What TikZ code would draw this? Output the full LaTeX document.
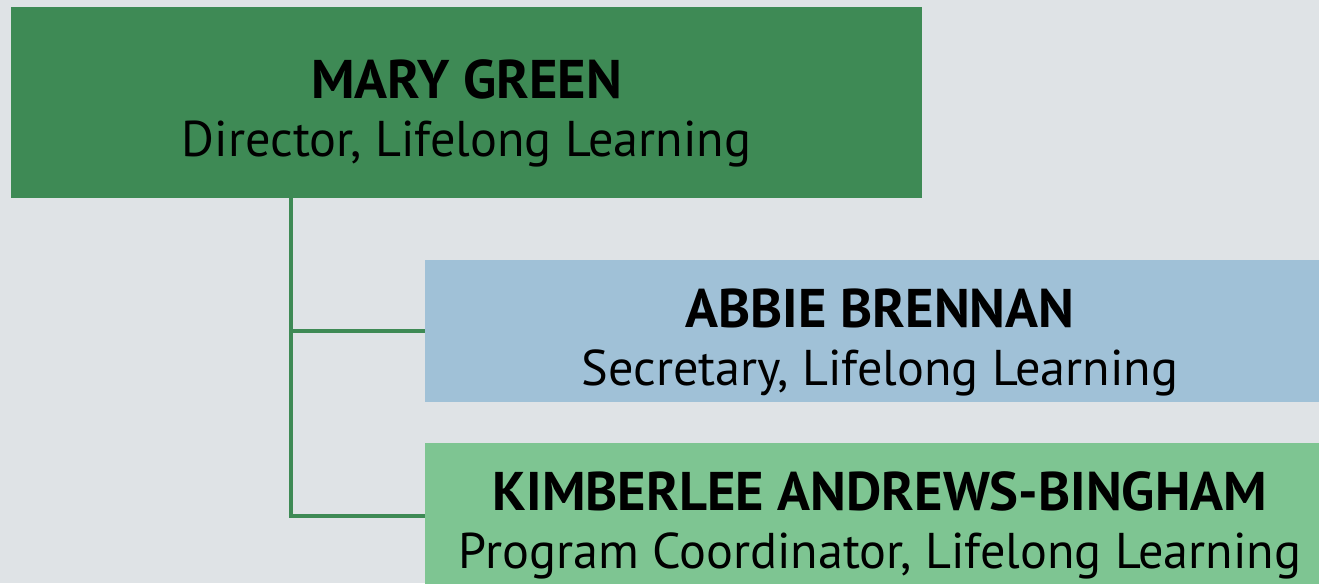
\documentclass[tikz,border=0pt]{standalone}
\usepackage{fontspec}
\setmainfont{PT Sans}
\usetikzlibrary{positioning}
\definecolor{fond}{RGB}{223, 227, 230}
\definecolor{vert}{RGB}{62, 138, 85}
\definecolor{bleu}{RGB}{160, 193, 215}
\definecolor{vertclair}{RGB}{126, 197, 146}
\newcommand{\fiche}[2]{\rule{0pt}{35pt}{\fontsize{31}{33}\selectfont\bfseries #1}\\{\fontsize{28.6}{33}\selectfont #2}}
\tikzset{poste/.style={rectangle, inner sep=0pt, align=center, text=black, font=\fontsize{28.6}{33}\selectfont}}

\begin{document}
\begin{tikzpicture}[x={0.02cm}, y={-0.02cm}]
				\fill[fond] (0,0) rectangle (1319,583); % le fond
				\useasboundingbox (0,0) rectangle (1319,583);
				\node[poste, fill=vert, minimum width=18.22cm, minimum height=3.82cm] (directrice) at (466.5,102.5) {\fiche{MARY GREEN}{Director, Lifelong Learning}};
				\node[poste, fill=bleu, minimum width=18.2cm, minimum height=2.84cm] (secretaire) at (880,331) {\fiche{ABBIE BRENNAN}{Secretary, Lifelong Learning}};
				\node[poste, fill=vertclair, minimum width=18.2cm, minimum height=2.84cm] (coordinatrice) at (880,514) {\fiche{KIMBERLEE ANDREWS-BINGHAM}{Program Coordinator, Lifelong Learning}};
				\coordinate (tronc) at (291,198);
				\draw[vert, line width=2pt] (tronc) |- (secretaire.west);
				\draw[vert, line width=2pt] (tronc) |- (coordinatrice.west|-0,516);
			\end{tikzpicture}
\end{document}
